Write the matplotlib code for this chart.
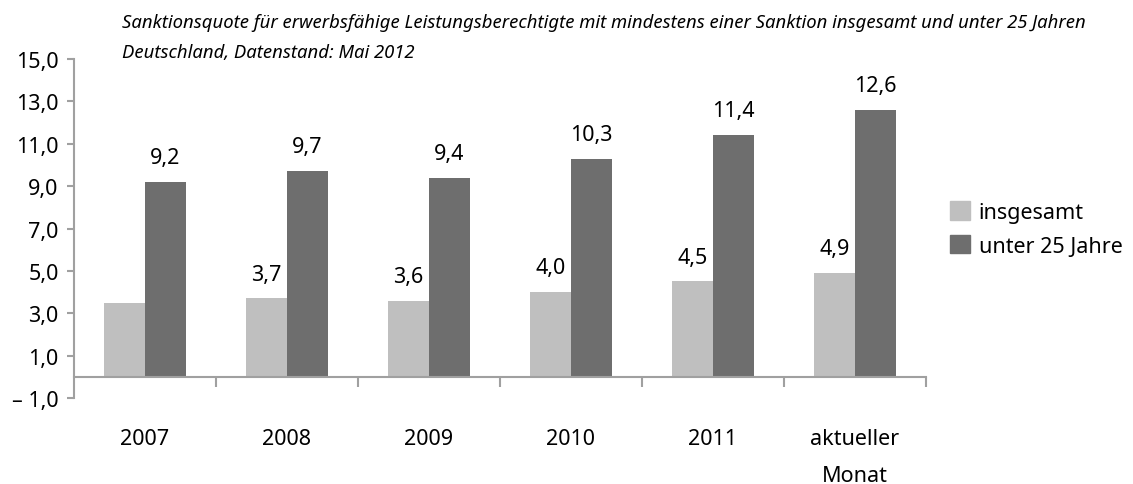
import numpy as np
import matplotlib
matplotlib.use("Agg")
import matplotlib.pyplot as plt
from matplotlib.patches import Patch

plt.rcParams['font.family'] = ['Noto Sans', 'DejaVu Sans']

# data
categories = ['2007', '2008', '2009', '2010', '2011', 'aktueller\nMonat']
insgesamt = [3.5, 3.7, 3.6, 4.0, 4.5, 4.9]
unter25 = [9.2, 9.7, 9.4, 10.3, 11.4, 12.6]
# the 2007 value of "insgesamt" has no label in the original
insgesamt_labels = ['', '3,7', '3,6', '4,0', '4,5', '4,9']
unter25_labels = ['9,2', '9,7', '9,4', '10,3', '11,4', '12,6']
yticks = [-1, 1, 3, 5, 7, 9, 11, 13, 15]

title = ('Sanktionsquote für erwerbsfähige Leistungsberechtigte mit mindestens '
         'einer Sanktion insgesamt und unter 25 Jahren')
subtitle = 'Deutschland, Datenstand: Mai 2012'

light = '#bfbfbf'
dark = '#6e6e6e'
axis_col = '#a0a0a0'
fs = 15.5

fig = plt.figure(figsize=(11.33, 4.85), dpi=100)
ax = fig.add_axes([0.0653, 0.1773, 0.752, 0.699])

x = np.arange(len(categories)) + 0.5
w = 0.289
b1 = ax.bar(x - w / 2, insgesamt, w, color=light, label='insgesamt')
b2 = ax.bar(x + w / 2, unter25, w, color=dark, label='unter 25 Jahre')

for bars, labels in [(b1, insgesamt_labels), (b2, unter25_labels)]:
    for rect, lab in zip(bars, labels):
        ax.annotate(lab, (rect.get_x() + rect.get_width() / 2, rect.get_height()),
                    xytext=(0, 10), textcoords='offset points',
                    ha='center', va='bottom', fontsize=fs)

ax.set_xlim(0, len(categories))
ax.set_ylim(-1, 15)

# y axis
ax.set_yticks(yticks)
ax.set_yticklabels([('– ' if v < 0 else '') + f'{abs(v):.1f}'.replace('.', ',')
                    for v in yticks], fontsize=fs)
ax.tick_params(axis='y', direction='out', length=5, width=1.5,
               color=axis_col, pad=6)

# x axis sits on zero, ticks between the groups
ax.spines['bottom'].set_position(('data', 0))
ax.set_xticks(x)
ax.set_xticklabels(categories, fontsize=fs)
ax.set_xticks(np.arange(1, len(categories) + 1), minor=True)
ax.tick_params(axis='x', which='major', length=0, pad=37)
ax.tick_params(axis='x', which='minor', direction='out', length=7,
               width=1.5, color=axis_col)
for lab in ax.get_xticklabels():
    lab.set_linespacing(2.0)

for s in ['top', 'right']:
    ax.spines[s].set_visible(False)
for s in ['left', 'bottom']:
    ax.spines[s].set_color(axis_col)
    ax.spines[s].set_linewidth(1.5)

fig.text(122 / 1133, 1 - 23 / 485, title, fontsize=13.3, style='italic',
         va='center', ha='left')
fig.text(122 / 1133, 1 - 53 / 485, subtitle, fontsize=13.3, style='italic',
         va='center', ha='left')

handles = [Patch(color=light), Patch(color=dark)]
fig.legend(handles, ['insgesamt', 'unter 25 Jahre'], frameon=False,
           loc='center left', bbox_to_anchor=(0.821, 1 - 230 / 485),
           fontsize=fs, handlelength=0.95, handleheight=0.95,
           handletextpad=0.4, labelspacing=0.55)

fig.savefig('out.png', dpi=100)
